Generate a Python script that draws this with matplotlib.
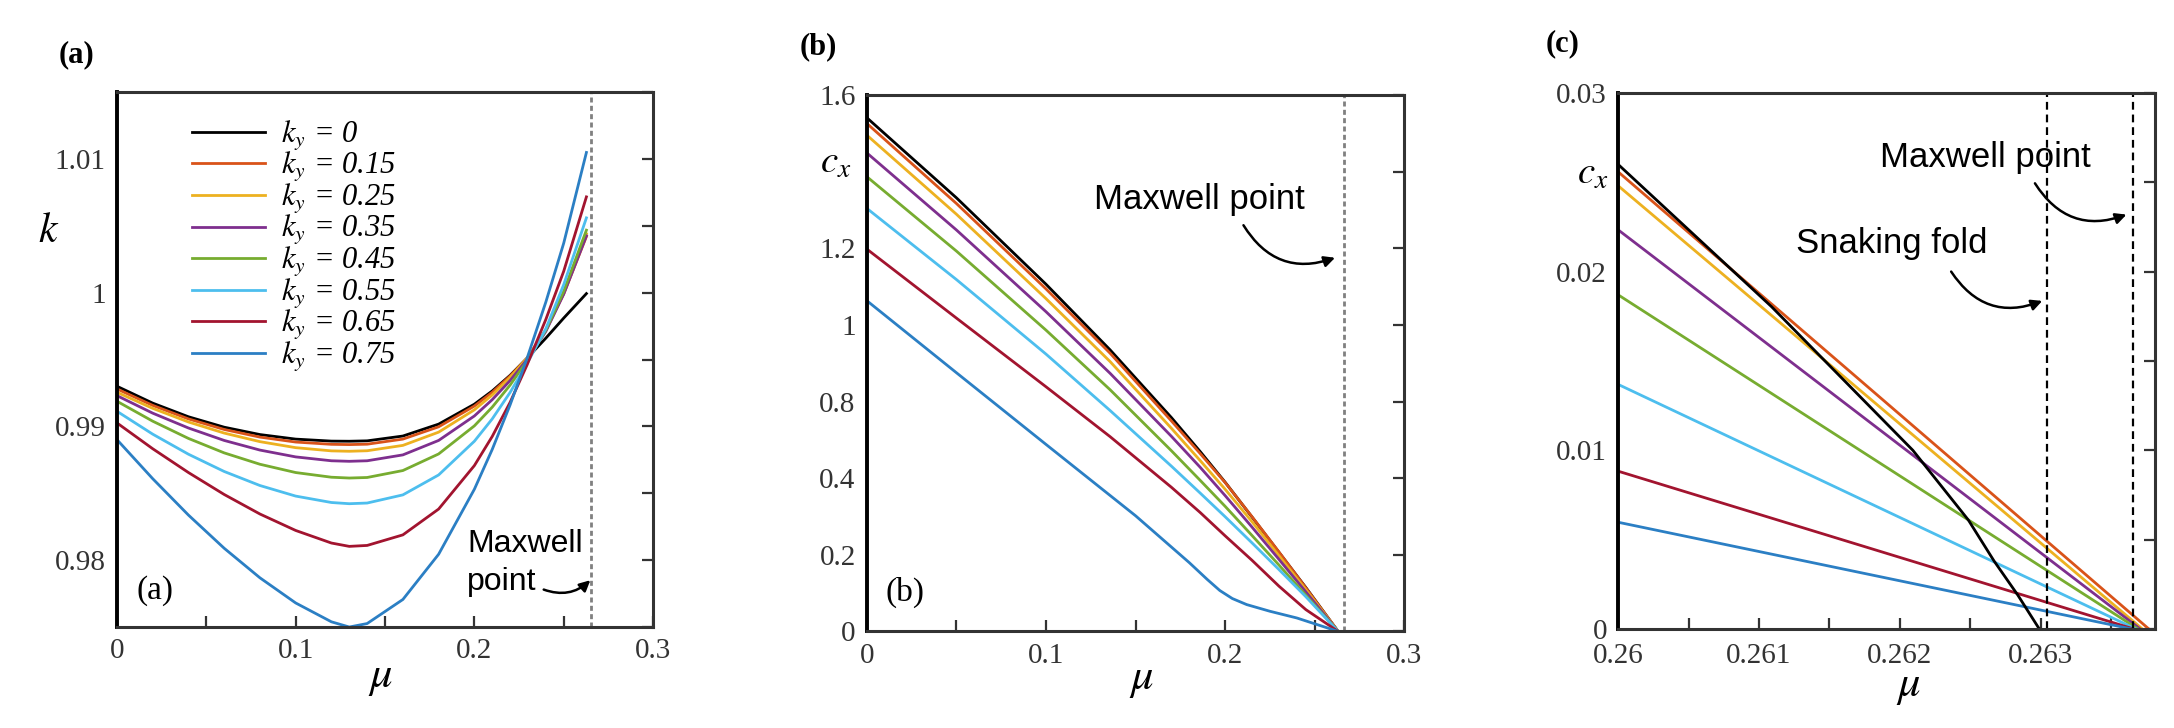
import numpy as np
import matplotlib
matplotlib.use('Agg')
import matplotlib.pyplot as plt

plt.rcParams['font.family'] = 'Liberation Serif'
plt.rcParams['mathtext.fontset'] = 'stix'

# series labels and colours
ky_values = ['0', '0.15', '0.25', '0.35', '0.45', '0.55', '0.65', '0.75']
colors = ['#000000', '#D95319', '#EDB120', '#7E2F8E', '#77AC30', '#4DBEEE', '#A2142F', '#2B7FC4']

# panel (a): k against mu
mu_a = [0, 0.02, 0.04, 0.06, 0.08, 0.10, 0.12, 0.13, 0.14, 0.16, 0.18, 0.20, 0.21, 0.22, 0.2295, 0.24, 0.25, 0.2627]
k_a_0 = [0.99300, 0.99174, 0.99072, 0.98994, 0.98939, 0.98905, 0.98890, 0.98889, 0.98892, 0.98928,
         0.99017, 0.99166, 0.99265, 0.99382, 0.9951, 0.9966, 0.9981, 0.99993]
k_a_15 = [0.99280, 0.99157, 0.99056, 0.98977, 0.98920, 0.98883, 0.98866, 0.98864, 0.98867, 0.98905,
          0.98997, 0.99152, 0.99255, 0.99377, 0.9951, 0.9972, 0.9999, 1.0042]
k_a_25 = [0.99255, 0.99135, 0.99033, 0.98950, 0.98886, 0.98841, 0.98817, 0.98814, 0.98818, 0.98858,
          0.98957, 0.99124, 0.99235, 0.99366, 0.9951, 0.9972, 1.0000, 1.0044]
k_a_35 = [0.99230, 0.99099, 0.98988, 0.98895, 0.98823, 0.98772, 0.98743, 0.98739, 0.98743, 0.98787,
          0.98895, 0.99078, 0.99200, 0.99343, 0.9950, 0.9971, 0.9999, 1.00425]
k_a_45 = [0.99188, 0.99039, 0.98910, 0.98802, 0.98717, 0.98655, 0.98620, 0.98614, 0.98618, 0.98670,
          0.98794, 0.99004, 0.99144, 0.99309, 0.9949, 0.9972, 1.0001, 1.00467]
k_a_55 = [0.99113, 0.98942, 0.98792, 0.98663, 0.98558, 0.98479, 0.98431, 0.98422, 0.98427, 0.98488,
          0.98637, 0.98889, 0.99056, 0.99254, 0.9947, 0.9973, 1.0006, 1.00559]
k_a_65 = [0.99026, 0.98833, 0.98655, 0.98491, 0.98345, 0.98222, 0.98128, 0.98103, 0.98110, 0.98189,
          0.98382, 0.98707, 0.98925, 0.99180, 0.9946, 0.9980, 1.0016, 1.00716]
k_a_75 = [0.98901, 0.98609, 0.98337, 0.98089, 0.97868, 0.97680, 0.97539, 0.97500, 0.97526, 0.97706,
          0.98044, 0.98530, 0.98828, 0.99161, 0.9951, 0.9993, 1.0037, 1.01048]

# panel (b): c_x against mu
mu_b = [0, 0.05, 0.1, 0.1358, 0.17, 0.186, 0.2, 0.215, 0.23, 0.245, 0.263]
c_b_0 = [1.533, 1.294, 1.036, 0.840, 0.638, 0.537, 0.445, 0.341, 0.236, 0.131, 0.0]
c_b_15 = [1.516, 1.277, 1.022, 0.830, 0.628, 0.531, 0.444, 0.342, 0.237, 0.130, 0.0]
c_b_25 = [1.481, 1.245, 0.993, 0.805, 0.606, 0.510, 0.424, 0.327, 0.226, 0.124, 0.0]
c_b_35 = [1.428, 1.198, 0.954, 0.770, 0.582, 0.490, 0.405, 0.311, 0.215, 0.118, 0.0]
c_b_45 = [1.357, 1.135, 0.899, 0.721, 0.539, 0.451, 0.373, 0.286, 0.198, 0.108, 0.0]
c_b_55 = [1.2625, 1.050, 0.8275, 0.659, 0.493, 0.413, 0.342, 0.264, 0.1845, 0.1035, 0.0]
c_b_65 = [1.141, 0.935, 0.730, 0.581, 0.430, 0.355, 0.285, 0.212, 0.135, 0.065, 0.0]
mu_b_75 = [0, 0.05, 0.1, 0.15, 0.18, 0.19, 0.197, 0.204, 0.212, 0.225, 0.24, 0.263]
c_b_75 = [0.987, 0.772, 0.558, 0.345, 0.205, 0.155, 0.122, 0.098, 0.080, 0.060, 0.040, 0.0]
b_ytick_labels = ['0', '0.2', '0.4', '0.8', '1', '1.2', '', '1.6']

# panel (c): zoom near the Maxwell point
mu_c_start = 0.26
c_c_start = [0.025584, 0.024805, 0.022338, 0.018701, 0.013688, 0.008831, 0.005974]
mu_c_end = [0.263769, 0.263723, 0.263708, 0.263692, 0.263677, 0.263662, 0.263647]
mu_c_black = [0.26, 0.261089, 0.262093, 0.262487, 0.26267, 0.262838, 0.262991]
c_c_black = [0.0260, 0.01804, 0.0100, 0.0061, 0.0038, 0.0019, 0.0]

mu_maxwell_a = 0.2653
mu_maxwell_b = 0.2664
mu_maxwell_c = 0.263656
mu_snaking_c = 0.263045

k_a = [k_a_0, k_a_15, k_a_25, k_a_35, k_a_45, k_a_55, k_a_65, k_a_75]
c_b = [c_b_0, c_b_15, c_b_25, c_b_35, c_b_45, c_b_55, c_b_65]

tick_color = '#333333'


def style_axes(ax, xpad=8):
    for s in ax.spines.values():
        s.set_color(tick_color)
        s.set_linewidth(2.2)
    ax.spines['left'].set_color('black')
    ax.spines['left'].set_linewidth(2.8)
    ax.tick_params(which='both', direction='in', left=False, right=True, top=False,
                   bottom=True, labelleft=True, length=8, width=1.6,
                   colors=tick_color, labelsize=21, pad=8)
    ax.tick_params(axis='x', pad=xpad)


def arrow(ax, start, end, rad):
    ax.annotate('', xy=end, xytext=start,
                arrowprops=dict(arrowstyle='-|>', connectionstyle='arc3,rad=%s' % rad,
                                color='black', lw=1.8, mutation_scale=16,
                                shrinkA=0, shrinkB=0))


fig = plt.figure(figsize=(21.74, 7.28), dpi=100)
axA = fig.add_axes([0.0538, 0.1387, 0.2466, 0.7349])
axB = fig.add_axes([0.3987, 0.1327, 0.2473, 0.7365])
axC = fig.add_axes([0.7443, 0.1360, 0.2468, 0.7364])

# (a)
for vals, col, ky in zip(k_a, colors, ky_values):
    axA.plot(mu_a, vals, color=col, lw=2, label=r'$k_y$ = ' + ky)
axA.axvline(mu_maxwell_a, color='#808080', lw=2, ls=(0, (1.8, 1.2)))
axA.set_xlim(0, 0.3)
axA.set_ylim(0.975, 1.015)
axA.set_xticks(np.arange(0, 0.3001, 0.05), ['0', '', '0.1', '', '0.2', '', '0.3'])
axA.set_yticks(np.arange(0.975, 1.0151, 0.005), ['', '0.98', '', '0.99', '', '1', '', '1.01', ''])
style_axes(axA)
axA.legend(loc='upper left', bbox_to_anchor=(0.14, 0.95), frameon=False,
           prop={'family': 'Liberation Serif', 'style': 'italic', 'size': 22},
           handlelength=2.4, handletextpad=0.5, labelspacing=-0.08, borderpad=0,
           borderaxespad=0)
axA.text(0.071, 0.069, '(a)', transform=axA.transAxes, fontsize=24, ha='center', va='center')
axA.text(0.1959, 0.9798, 'Maxwell\npoint', family='Liberation Sans', fontsize=23,
         ha='left', va='center', linespacing=1.35)
arrow(axA, (0.2388, 0.9778), (0.2649, 0.9785), 0.3)

# (b)
for vals, col in zip(c_b, colors[:7]):
    axB.plot(mu_b, vals, color=col, lw=2)
axB.plot(mu_b_75, c_b_75, color=colors[7], lw=2)
axB.axvline(mu_maxwell_b, color='#808080', lw=2, ls=(0, (1.8, 1.2)))
axB.set_xlim(0, 0.3)
axB.set_ylim(0, 1.6)
axB.set_xticks(np.arange(0, 0.3001, 0.05), ['0', '', '0.1', '', '0.2', '', '0.3'])
axB.set_yticks(np.linspace(0, 1.6, 8), b_ytick_labels)
style_axes(axB)
axB.text(0.0712, 0.0735, '(b)', transform=axB.transAxes, fontsize=24, ha='center', va='center')
axB.text(0.1266, 1.288, 'Maxwell point', family='Liberation Sans', fontsize=25,
         ha='left', va='center')
arrow(axB, (0.2102, 1.212), (0.2613, 1.115), 0.4)

# (c)
for c0, mu1, col in zip(c_c_start, mu_c_end, colors[1:]):
    axC.plot([mu_c_start, mu1], [c0, 0], color=col, lw=2)
axC.plot(mu_c_black, c_c_black, color=colors[0], lw=2)
axC.axvline(mu_snaking_c, color='black', lw=1.6, ls=(0, (3.5, 2.2)))
axC.axvline(mu_maxwell_c, color='black', lw=1.6, ls=(0, (3.5, 2.2)))
axC.set_xlim(0.26, 0.26381)
axC.set_ylim(0, 0.03)
axC.set_xticks(np.arange(0.26, 0.26381, 0.0005), ['0.26', '', '0.261', '', '0.262', '', '0.263', ''])
axC.set_yticks(np.arange(0, 0.03001, 0.005), ['0', '', '0.01', '', '0.02', '', '0.03'])
style_axes(axC, xpad=10)
axC.text(0.261861, 0.02636, 'Maxwell point', family='Liberation Sans', fontsize=25,
         ha='left', va='center')
axC.text(0.261266, 0.02156, 'Snaking fold', family='Liberation Sans', fontsize=25,
         ha='left', va='center')
arrow(axC, (0.262960, 0.02494), (0.263610, 0.02319), 0.4)
arrow(axC, (0.262365, 0.02000), (0.263012, 0.01836), 0.4)

# axis labels and panel letters
fig.text(0.0222, 0.6813, r'$k$', fontsize=30, ha='center', va='center')
fig.text(0.3845, 0.7755, r'$c_x$', fontsize=28, ha='center', va='center')
fig.text(0.7327, 0.761, r'$c_x$', fontsize=28, ha='center', va='center')
fig.text(0.1748, 0.069, r'$\mu$', fontsize=32, ha='center', va='center')
fig.text(0.5252, 0.066, r'$\mu$', fontsize=32, ha='center', va='center')
fig.text(0.8778, 0.0563, r'$\mu$', fontsize=32, ha='center', va='center')
fig.text(0.0354, 0.9245, '(a)', fontsize=22, fontweight='bold', ha='center', va='center')
fig.text(0.3764, 0.9363, '(b)', fontsize=22, fontweight='bold', ha='center', va='center')
fig.text(0.7186, 0.9394, '(c)', fontsize=22, fontweight='bold', ha='center', va='center')

fig.savefig('out.png', dpi=100)
